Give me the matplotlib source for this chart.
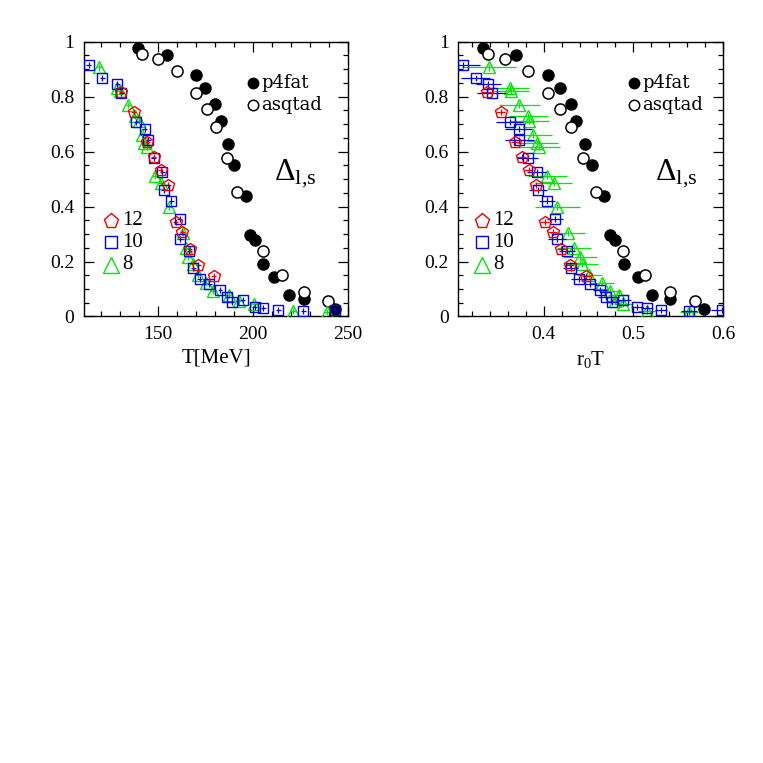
import matplotlib
matplotlib.use('Agg')
import matplotlib.pyplot as plt
from matplotlib.ticker import MultipleLocator, FuncFormatter

plt.rcParams['font.family'] = 'Liberation Serif'
plt.rcParams['mathtext.fontset'] = 'custom'
plt.rcParams['mathtext.rm'] = 'Liberation Serif'
plt.rcParams['mathtext.it'] = 'Liberation Serif:italic'

# --- continuum-ish curves (p4fat filled, asqtad open) ---
t_p4 = [139.3, 154.6, 170.1, 174.8, 180.1, 183.1, 186.6, 190.1, 196.3, 198.6,
        201.2, 205.4, 210.8, 219.1, 227.0, 243.4]
r_p4 = [0.332, 0.369, 0.405, 0.418, 0.430, 0.436, 0.446, 0.454, 0.467, 0.474,
        0.479, 0.490, 0.505, 0.521, 0.541, 0.579]
d_p4 = [0.976, 0.950, 0.877, 0.830, 0.773, 0.710, 0.627, 0.552, 0.438, 0.295,
        0.278, 0.192, 0.145, 0.078, 0.064, 0.028]

t_asq = [141.4, 149.7, 160.2, 169.9, 175.7, 180.6, 186.3, 191.7, 205.3, 215.3,
         227.0, 239.5]
r_asq = [0.338, 0.357, 0.382, 0.405, 0.418, 0.431, 0.444, 0.458, 0.489, 0.513,
         0.541, 0.569]
d_asq = [0.955, 0.936, 0.893, 0.814, 0.756, 0.691, 0.578, 0.452, 0.238, 0.151,
         0.088, 0.056]

# --- N_tau = 12 ---
t12 = [130.7, 137.2, 144.2, 147.8, 151.5, 155.3, 159.4, 162.8, 166.7, 171.1, 179.4]
r12 = [0.3365, 0.352, 0.3685, 0.3756, 0.3834, 0.3916, 0.401, 0.410, 0.4195,
       0.4288, 0.4475]
d12 = [0.818, 0.745, 0.634, 0.579, 0.533, 0.480, 0.344, 0.307, 0.245, 0.186, 0.146]
rerr12 = [0.005, 0.005, 0.005, 0.005, 0.005, 0.005, 0.005, 0.005, 0.005, 0.005, 0.005]

# --- N_tau = 10 ---
t10 = [113.5, 120.7, 128.6, 130.7, 138.6, 143.0, 144.8, 147.8, 152.1, 153.0,
       157.0, 161.5, 161.8, 166.4, 168.5, 172.0, 176.9, 182.6, 186.4, 188.7,
       194.5, 201.0, 205.4, 213.3, 226.5, 243.2]
r10 = [0.3097, 0.324, 0.338, 0.342, 0.362, 0.372, 0.373, 0.382, 0.392, 0.394,
       0.4036, 0.413, 0.415, 0.426, 0.430, 0.439, 0.452, 0.463, 0.469, 0.476,
       0.489, 0.504, 0.515, 0.531, 0.562, 0.599]
d10 = [0.915, 0.867, 0.845, 0.815, 0.708, 0.682, 0.641, 0.576, 0.524, 0.459,
       0.422, 0.356, 0.283, 0.240, 0.176, 0.137, 0.120, 0.096, 0.072, 0.052,
       0.060, 0.033, 0.032, 0.022, 0.021, 0.022]
rerr10 = [0.019, 0.016, 0.014, 0.016, 0.015, 0.015, 0.016, 0.012, 0.011, 0.010,
          0.009, 0.009, 0.010, 0.009, 0.008, 0.009, 0.008, 0.008, 0.008, 0.007,
          0.008, 0.007, 0.007, 0.007, 0.009, 0.012]

# --- N_tau = 8 ---
t8 = [119.0, 128.5, 130.0, 134.3, 137.8, 139.8, 141.3, 142.8, 144.3, 148.3,
      151.3, 155.9, 163.0, 164.8, 166.0, 168.3, 171.2, 175.3, 178.8, 187.2,
      192.4, 200.7, 221.2, 238.7]
r8 = [0.339, 0.3625, 0.364, 0.373, 0.383, 0.384, 0.3886, 0.393, 0.395, 0.404,
      0.411, 0.415, 0.4266, 0.434, 0.441, 0.443, 0.451, 0.465, 0.474, 0.4835,
      0.480, 0.489, 0.515, 0.562]
d8 = [0.906, 0.832, 0.822, 0.770, 0.731, 0.713, 0.660, 0.630, 0.618, 0.513,
      0.485, 0.398, 0.305, 0.248, 0.218, 0.192, 0.152, 0.121, 0.094, 0.080,
      0.057, 0.045, 0.020, 0.017]
rerr8 = [0.030, 0.021, 0.020, 0.023, 0.022, 0.022, 0.021, 0.023, 0.023, 0.022,
         0.021, 0.025, 0.020, 0.019, 0.019, 0.018, 0.014, 0.013, 0.012, 0.012,
         0.011, 0.011, 0.010, 0.010]

TERR = 1.3     # MeV, small horizontal bar seen inside the markers
DERR = 0.011   # vertical bar inside the markers

GREEN = '#00e600'
BLUE = '#0000ee'
RED = '#ee0000'


def panel(ax, xp4, xasq, x12, x10, x8, xe12, xe10, xe8, xlim, major, minor,
          xlabel, leg_x, lat_x):
    ax.plot(xp4, d_p4, 'o', color='black', ms=8, zorder=2)
    ax.plot(xasq, d_asq, 'o', mfc='white', mec='black', mew=1.1, ms=8, zorder=2)

    kw = dict(fmt='none', elinewidth=0.9, capsize=0, zorder=3)
    ax.errorbar(x8, d8, xerr=xe8, yerr=DERR, ecolor=GREEN, **kw)
    ax.plot(x8, d8, '^', mfc='none', mec=GREEN, mew=1.0, ms=9, zorder=3)
    ax.errorbar(x10, d10, xerr=xe10, yerr=DERR, ecolor=BLUE, **kw)
    ax.plot(x10, d10, 's', mfc='none', mec=BLUE, mew=1.0, ms=7, zorder=4)
    ax.errorbar(x12, d12, xerr=xe12, yerr=DERR, ecolor=RED, **kw)
    ax.plot(x12, d12, 'p', mfc='none', mec=RED, mew=1.0, ms=9, zorder=5)

    # legends drawn by hand, like the original
    tr = ax.transAxes
    ax.plot([leg_x], [0.851], 'o', color='black', ms=7.5, transform=tr)
    ax.plot([leg_x], [0.770], 'o', mfc='white', mec='black', mew=1.1, ms=7.5, transform=tr)
    ax.text(leg_x + 0.033, 0.851, 'p4fat', transform=tr, va='center',
            fontsize=13, family='DejaVu Serif')
    ax.text(leg_x + 0.033, 0.770, 'asqtad', transform=tr, va='center',
            fontsize=13, family='DejaVu Serif')
    ax.text(leg_x + 0.08, 0.497, r'$\Delta_{\mathrm{l{,}s}}$', transform=tr,
            va='baseline', fontsize=23)

    ax.plot([lat_x], [0.349], 'p', mfc='none', mec=RED, mew=1.0, ms=11, transform=tr)
    ax.plot([lat_x], [0.270], 's', mfc='none', mec=BLUE, mew=1.0, ms=8, transform=tr)
    ax.plot([lat_x], [0.189], '^', mfc='none', mec=GREEN, mew=1.0, ms=11, transform=tr)
    for y, s in zip([0.349, 0.270, 0.189], ['12', '10', '8']):
        ax.text(lat_x + 0.042, y, s, transform=tr, va='center', fontsize=15)

    ax.set_xlim(*xlim)
    ax.set_ylim(0, 1)
    ax.xaxis.set_major_locator(MultipleLocator(major))
    ax.xaxis.set_minor_locator(MultipleLocator(minor))
    ax.yaxis.set_major_locator(MultipleLocator(0.2))
    ax.yaxis.set_minor_locator(MultipleLocator(0.05))
    ax.yaxis.set_major_formatter(FuncFormatter(lambda v, p: '%g' % round(v, 2)))
    ax.xaxis.set_major_formatter(FuncFormatter(lambda v, p: '%g' % round(v, 2)))
    ax.tick_params(which='both', direction='in', top=True, right=True,
                   labelsize=14, width=0.9)
    ax.tick_params(which='major', length=7, pad=7)
    ax.tick_params(which='minor', length=3.5)
    for sp in ax.spines.values():
        sp.set_linewidth(1.0)
    ax.set_xlabel(xlabel, fontsize=15, labelpad=4)


fig = plt.figure(figsize=(7.63, 7.63), dpi=100)
ax1 = fig.add_axes([0.1101, 0.5852, 0.3460, 0.3602])
ax2 = fig.add_axes([0.6009, 0.5852, 0.3467, 0.3602])

terr12 = [TERR] * len(t12)
terr10 = [TERR] * len(t10)
terr8 = [TERR] * len(t8)

panel(ax1, t_p4, t_asq, t12, t10, t8, terr12, terr10, terr8, (111, 250), 50, 10,
      'T[MeV]', 0.639, 0.103)
panel(ax2, r_p4, r_asq, r12, r10, r8, rerr12, rerr10, rerr8, (0.305, 0.6), 0.1, 0.02,
      r'r$_0$T', 0.662, 0.088)

fig.savefig('out.png', dpi=100)
